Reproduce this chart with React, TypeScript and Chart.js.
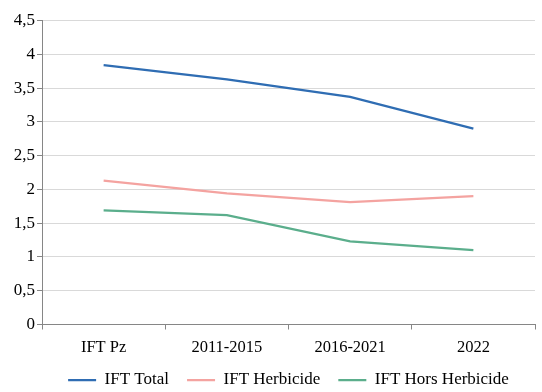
import React, { useEffect, useRef } from "react";
import { Chart, registerables } from "chart.js";

Chart.register(...registerables);

const categories = ["IFT Pz", "2011-2015", "2016-2021", "2022"];
const iftTotal = [3.84, 3.63, 3.37, 2.9];
const iftHerbicide = [2.13, 1.94, 1.81, 1.9];
const iftHorsHerbicide = [1.69, 1.62, 1.23, 1.1];

const FONT = "'Liberation Serif', 'Times New Roman', serif";

export default function App() {
  const ref = useRef<HTMLCanvasElement | null>(null);
  useEffect(() => {
    if (!ref.current) return;
    const chart = new Chart(ref.current, {
      type: "line",
      data: {
        labels: categories,
        datasets: [
          { label: "IFT Total", data: iftTotal, borderColor: "#2f6db3", backgroundColor: "#2f6db3", borderWidth: 2.25, pointRadius: 0, tension: 0 },
          { label: "IFT Herbicide", data: iftHerbicide, borderColor: "#f4a3a0", backgroundColor: "#f4a3a0", borderWidth: 2.25, pointRadius: 0, tension: 0 },
          { label: "IFT Hors Herbicide", data: iftHorsHerbicide, borderColor: "#5bae8c", backgroundColor: "#5bae8c", borderWidth: 2.25, pointRadius: 0, tension: 0 },
        ],
      },
      options: {
        responsive: false,
        animation: false,
        layout: { padding: { left: 0, right: 7, top: 20.5, bottom: -6.5 } },
        plugins: {
          tooltip: { enabled: false },
          legend: {
            position: "bottom",
            fullSize: false,
            labels: {
              usePointStyle: true,
              pointStyle: "line",
              pointStyleWidth: 28,
              boxHeight: 17,
              padding: 18,
              color: "#000",
              font: { family: FONT, size: 17 },
            },
          },
        },
        scales: {
          x: {
            offset: true,
            grid: { offset: true, drawOnChartArea: false, drawTicks: true, tickLength: 5, tickColor: "#868686" },
            border: { color: "#868686", width: 1 },
            ticks: { color: "#000", font: { family: FONT, size: 16.5 }, padding: 8, maxRotation: 0 },
            afterFit: (s: any) => { s.height = 29; },
          },
          y: {
            min: 0,
            max: 4.5,
            ticks: {
              stepSize: 0.5,
              color: "#000",
              font: { family: FONT, size: 17 },
              padding: 2,
              callback: (v: any) => String(Number(v)).replace(".", ","),
            },
            grid: { color: "#d9d9d9", tickColor: "#868686", tickLength: 5 },
            border: { color: "#868686", width: 1 },
            afterFit: (s: any) => { s.width = 42; },
          },
        },
      },
    });
    return () => chart.destroy();
  }, []);
  return (
    <div style={{ position: "fixed", left: 0, top: 0, width: 542, height: 392, background: "#fff" }}>
      <canvas ref={ref} width={542} height={392} />
    </div>
  );
}
